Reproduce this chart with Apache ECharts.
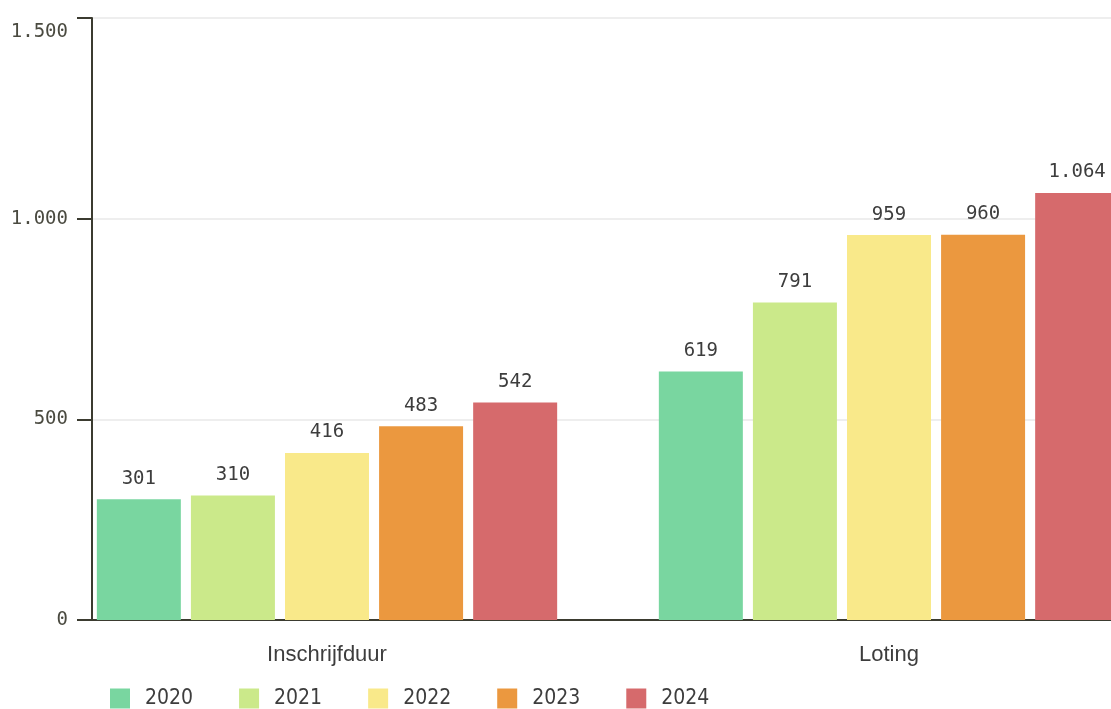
<!DOCTYPE html>
<html>
<head>
<meta charset="utf-8">
<title>Inschrijfduur en loting 2020–2024</title>
<script src="https://cdn.jsdelivr.net/npm/echarts@6/dist/echarts.min.js"></script>
<style>
  html, body { margin: 0; padding: 0; background: #ffffff; }
  #chart { width: 1111px; height: 709px; }
</style>
</head>
<body>
<div id="chart"></div>
<script>
// Categories and yearly values
const categories = ['Inschrijfduur', 'Loting'];
const years = ['2020', '2021', '2022', '2023', '2024'];
const values2020 = [301, 619];
const values2021 = [310, 791];
const values2022 = [416, 959];
const values2023 = [483, 960];
const values2024 = [542, 1064];
const yTicks = [0, 500, 1000, 1500];

const seriesValues = [values2020, values2021, values2022, values2023, values2024];
const colors = ['#79d6a0', '#cbe98a', '#f9e98a', '#eb983f', '#d66a6c'];

const monoFont = '"DejaVu Sans Mono", "Liberation Mono", monospace';
const sansFont = '"Liberation Sans", Arial, sans-serif';
const legendFont = '"DejaVu Sans Condensed", "Liberation Sans", sans-serif';
const axisColor = '#3b3b30';
const textColor = '#3d3d3d';

// Dutch thousands separator
function fmt(v) {
  return String(Math.round(v)).replace(/\B(?=(\d{3})+(?!\d))/g, '.');
}

const chart = echarts.init(document.getElementById('chart'));

const option = {
  backgroundColor: '#ffffff',
  animation: false,
  legend: {
    data: years,
    left: 105,
    top: 683,
    itemWidth: 20,
    itemHeight: 20,
    itemGap: 46,
    icon: 'rect',
    textStyle: {
      fontFamily: legendFont,
      fontSize: 21,
      color: textColor,
      width: 50,
      padding: [0, 0, 0, 10]
    }
  },
  grid: [
    // axes frame: y axis line, ticks, gridlines, baseline
    { left: 92, top: 18, bottom: 89, width: 1124, outerBoundsMode: 'none' },
    // bars and category labels
    { left: 46, top: 18, bottom: 89, width: 1124, outerBoundsMode: 'none' }
  ],
  xAxis: [
    {
      type: 'category',
      gridIndex: 0,
      data: categories,
      axisLine: { show: true, lineStyle: { color: axisColor, width: 2 } },
      axisTick: { show: false },
      axisLabel: { show: false },
      splitLine: { show: false }
    },
    {
      type: 'category',
      gridIndex: 1,
      data: categories,
      axisLine: { show: false },
      axisTick: { show: false },
      axisLabel: {
        margin: 24,
        fontFamily: sansFont,
        fontSize: 22,
        color: textColor
      },
      splitLine: { show: false }
    }
  ],
  yAxis: [
    {
      type: 'value',
      gridIndex: 0,
      min: yTicks[0],
      max: yTicks[yTicks.length - 1],
      interval: yTicks[1] - yTicks[0],
      axisLine: { show: true, lineStyle: { color: axisColor, width: 2 } },
      axisTick: { show: true, length: 15, lineStyle: { color: axisColor, width: 2 } },
      axisLabel: {
        margin: 24,
        fontFamily: monoFont,
        fontSize: 19,
        color: '#4a4a40',
        formatter: function (v) {
          return v === yTicks[yTicks.length - 1] ? '{top|' + fmt(v) + '}' : fmt(v);
        },
        rich: {
          top: {
            fontFamily: monoFont,
            fontSize: 19,
            color: '#4a4a40',
            padding: [28, 0, 0, 0]
          }
        }
      },
      splitLine: { show: true, lineStyle: { color: '#e9e9e9', width: 1.5 } }
    },
    {
      type: 'value',
      gridIndex: 1,
      min: yTicks[0],
      max: yTicks[yTicks.length - 1],
      interval: yTicks[1] - yTicks[0],
      show: false,
      splitLine: { show: false }
    }
  ],
  series: years.map(function (year, i) {
    return {
      name: year,
      type: 'bar',
      xAxisIndex: 1,
      yAxisIndex: 1,
      data: seriesValues[i],
      barWidth: 84,
      barGap: '12%',
      itemStyle: { color: colors[i] },
      label: {
        show: true,
        position: 'top',
        distance: 11,
        fontFamily: monoFont,
        fontSize: 19,
        color: textColor,
        formatter: function (p) { return fmt(p.value); }
      }
    };
  })
};

chart.setOption(option);
</script>
</body>
</html>
